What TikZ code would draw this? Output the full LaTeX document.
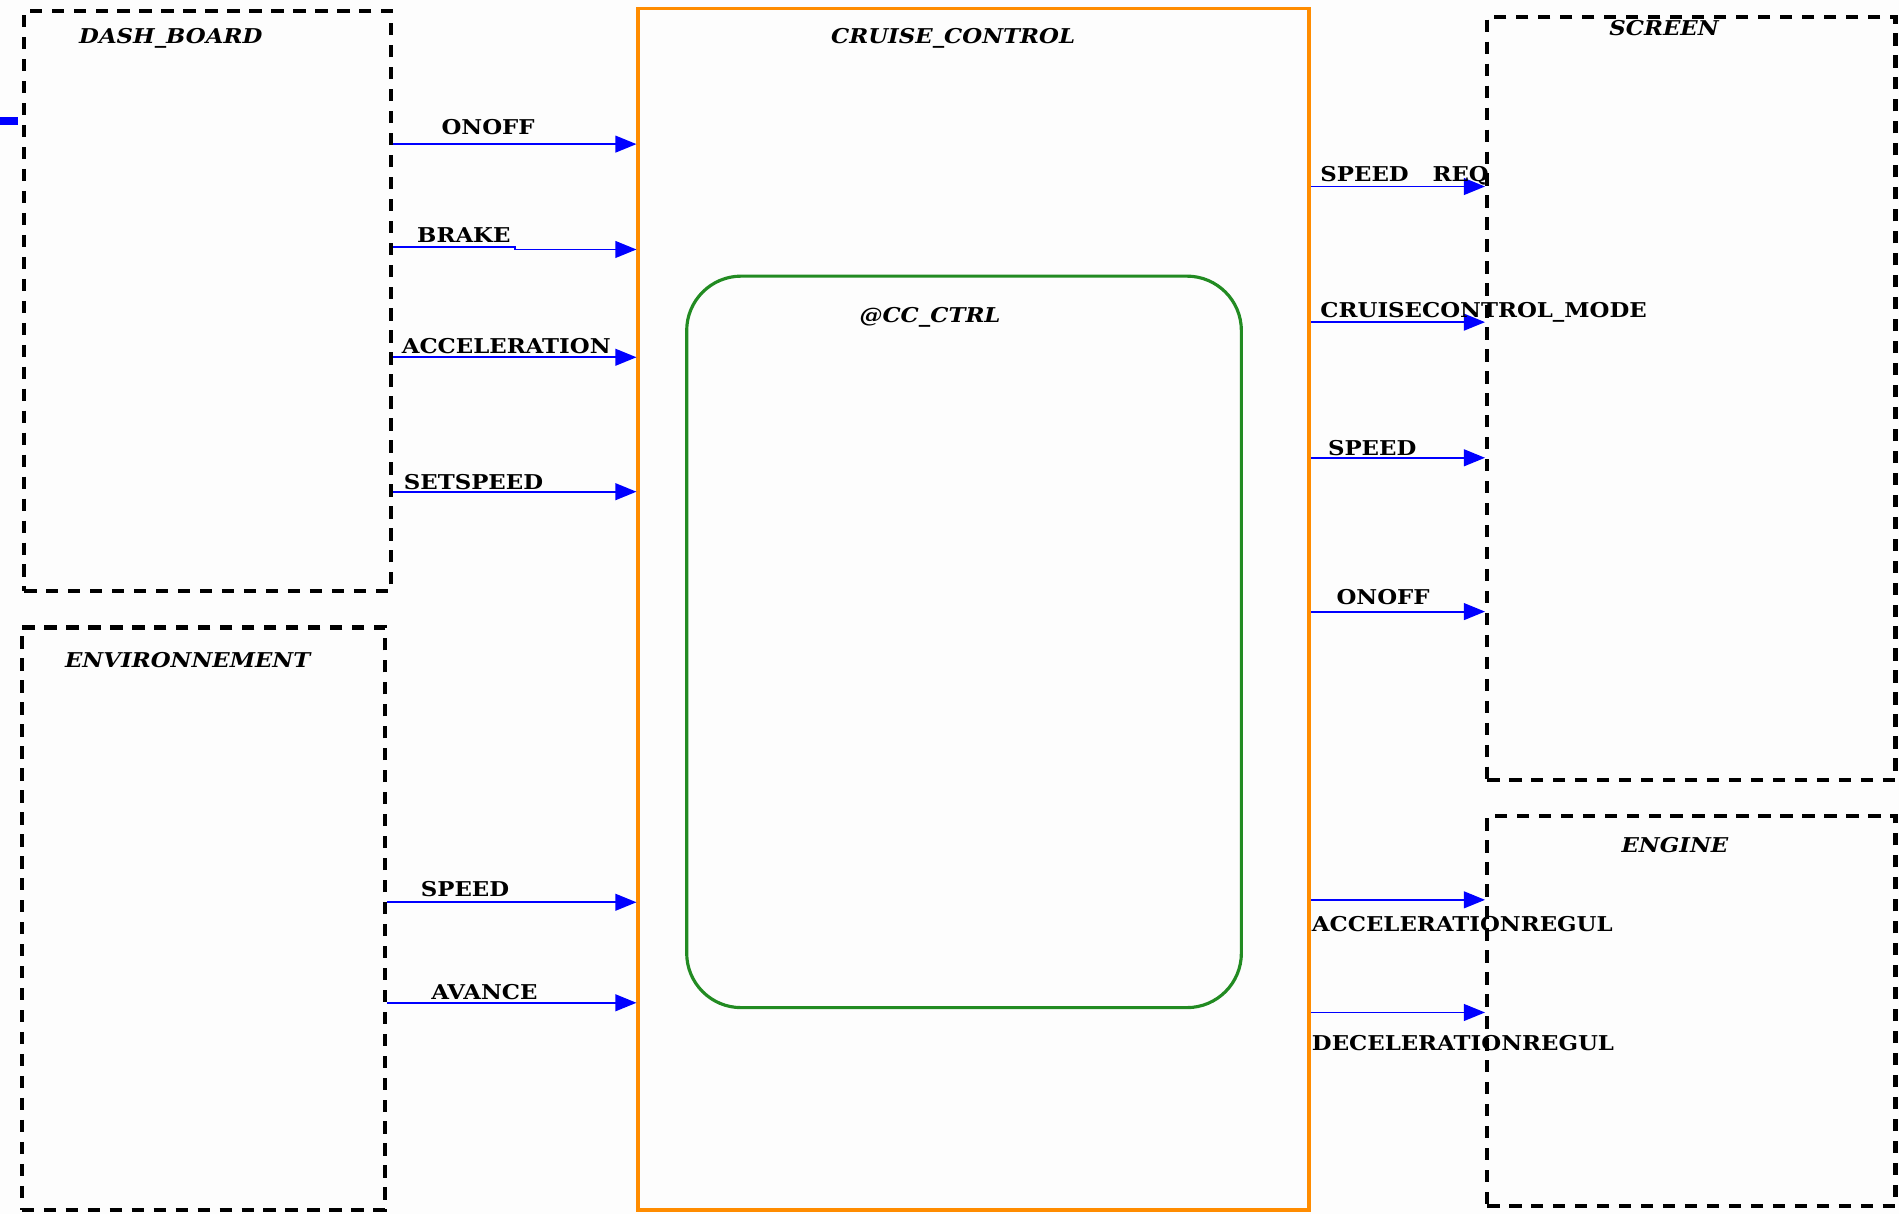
\documentclass[tikz,border=0pt]{standalone}
\usepackage{fontspec}
\setmainfont{DejaVu Serif}
\newfontfamily\lblfont{DejaVu Serif}[FakeStretch=1.12]
\usetikzlibrary{arrows.meta,fit}
\definecolor{ccorange}{RGB}{255,140,0}
\definecolor{ccgreen}{RGB}{34,139,34}
\definecolor{bgcol}{RGB}{253,253,253}
\begin{document}
\begin{tikzpicture}[x=0.024222cm,y=-0.024222cm,
  lbl/.style={font=\lblfont\fontsize{11.6}{12}\selectfont\bfseries, inner sep=0pt},
  ttl/.style={font=\lblfont\fontsize{11.6}{12}\selectfont\bfseries\itshape, inner sep=0pt},
  ext/.style={draw=black, line width=2.5pt, dash pattern=on 7pt off 5.5pt, inner sep=0pt},
  sys/.style={draw=ccorange, line width=2pt, inner sep=0pt},
  ctrl/.style={draw=ccgreen, line width=1.8pt, rounded corners=31pt, inner sep=0pt},
  sig/.style={draw=blue, line width=1.1pt, -{Triangle[length=12pt,width=9.5pt]}},
]
\fill[bgcol] (0,0) rectangle (1568,1002);
\useasboundingbox (0,0) rectangle (1568,1002);

% corners
\coordinate (d1) at (20,9);    \coordinate (d2) at (323,488);
\coordinate (e1) at (18,518);  \coordinate (e2) at (318,999);
\coordinate (c1) at (527,7);   \coordinate (c2) at (1081,999);
\coordinate (g1) at (567,228); \coordinate (g2) at (1025,832);
\coordinate (s1) at (1228,14); \coordinate (s2) at (1565,644);
\coordinate (n1) at (1228,674);\coordinate (n2) at (1565,996);

% boxes
\node[ext, fit=(d1)(d2)] (dash) {};
\node[ext, fit=(e1)(e2)] (env) {};
\node[sys, fit=(c1)(c2)] (cc) {};
\node[ctrl, fit=(g1)(g2)] (cctrl) {};
\node[ext, fit=(s1)(s2)] (screen) {};
\node[ext, fit=(n1)(n2)] (engine) {};

% titles
\node[ttl] (dashT) at (141,32) {DASH\_BOARD};
\node[ttl] (envT) at (155,545) {ENVIRONNEMENT};
\node[ttl] (ccT) at (787,32) {CRUISE\_CONTROL};
\node[ttl] (ctrlT) at (768,262) {@CC\_CTRL};
\node[ttl] (scrT) at (1374,23) {SCREEN};
\node[ttl] (engT) at (1383,698) {ENGINE};

% small blue port
\fill[blue] (0,97) rectangle (15,103);

% inputs from DASH_BOARD
\draw[sig] (dash.east |- 0,119) -- (cc.west |- 0,119);
\node[lbl] (l1) at (403,105) {ONOFF};
\coordinate (bk1) at (425,204);
\coordinate (bk2) at (425,206);
\draw[sig] (dash.east |- 0,204) -- (bk1) -- (bk2) -- (cc.west |- 0,206);
\node[lbl] (l2) at (383,194) {BRAKE};
\draw[sig] (dash.east |- 0,295) -- (cc.west |- 0,295);
\node[lbl] (l3) at (418,286) {ACCELERATION};
\draw[sig] (dash.east |- 0,406) -- (cc.west |- 0,406);
\node[lbl] (l4) at (391,398) {SETSPEED};

% inputs from ENVIRONNEMENT
\draw[sig] (env.east |- 0,745) -- (cc.west |- 0,745);
\node[lbl] (l5) at (384,734) {SPEED};
\draw[sig] (env.east |- 0,828) -- (cc.west |- 0,828);
\node[lbl] (l6) at (400,819) {AVANCE};

% outputs to SCREEN
\draw[sig] (cc.east |- 0,154) -- (screen.west |- 0,154);
\node[lbl, anchor=west] (r1) at (1090,145) {SPEED\ \ \ REQ};
\draw[sig] (cc.east |- 0,266) -- (screen.west |- 0,266);
\node[lbl, anchor=west] (r2) at (1090,258) {CRUISECONTROL\_MODE};
\draw[sig] (cc.east |- 0,378) -- (screen.west |- 0,378);
\node[lbl] (r3) at (1133,370) {SPEED};
\draw[sig] (cc.east |- 0,505) -- (screen.west |- 0,505);
\node[lbl] (r4) at (1142,493) {ONOFF};

% outputs to ENGINE
\draw[sig] (cc.east |- 0,743) -- (engine.west |- 0,743);
\node[lbl, anchor=west] (r5) at (1083,763) {ACCELERATIONREGUL};
\draw[sig] (cc.east |- 0,836) -- (engine.west |- 0,836);
\node[lbl, anchor=west] (r6) at (1083,861) {DECELERATIONREGUL};
\end{tikzpicture}
\end{document}
